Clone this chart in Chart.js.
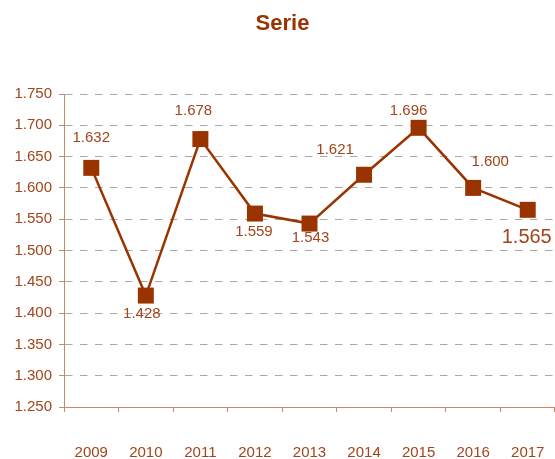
<!DOCTYPE html>
<html>
<head>
<meta charset="utf-8">
<script src="https://cdn.jsdelivr.net/npm/chart.js@4"></script>
<style>
  html, body { margin: 0; padding: 0; background: #ffffff; overflow: hidden; }
  #wrap { width: 555px; height: 459px; position: relative; }
</style>
</head>
<body>
<div id="wrap"><canvas id="c"></canvas></div>
<script>
// ---- Data ----
const categories = ['2009', '2010', '2011', '2012', '2013', '2014', '2015', '2016', '2017'];
const serieValues = [1632, 1428, 1678, 1559, 1543, 1621, 1696, 1600, 1565];
const yTickValues = [1250, 1300, 1350, 1400, 1450, 1500, 1550, 1600, 1650, 1700, 1750];
const chartTitle = 'Serie';

// ---- Label placement (style only) ----
const labelDx = [0, -4, -7, -1, 1, -29, -10, 17, -1];
const labelDy = [-30, 18, -28, 18, 14, -25, -17, -26, 28];
const labelSize = [15, 15, 15, 15, 15, 15, 15, 15, 20];

const TEXT = '#a3441a';
const BROWN = '#993300';
const AXIS = '#c98a6c';
const FONT = '"Liberation Sans", Arial, sans-serif';

function fmt(v) {
  const s = String(Math.round(v));
  return s.replace(/\B(?=(\d{3})+(?!\d))/g, '.');
}

const labelPlugin = {
  id: 'pointLabels',
  afterDatasetsDraw(chart) {
    const ctx = chart.ctx;
    const meta = chart.getDatasetMeta(0);
    ctx.save();
    ctx.fillStyle = TEXT;
    ctx.textAlign = 'center';
    ctx.textBaseline = 'middle';
    meta.data.forEach((pt, i) => {
      ctx.font = labelSize[i] + 'px ' + FONT;
      ctx.fillText(fmt(serieValues[i]), pt.x + labelDx[i], pt.y + labelDy[i]);
    });
    ctx.restore();
  }
};

new Chart(document.getElementById('c'), {
  type: 'line',
  data: {
    labels: categories,
    datasets: [{
      label: chartTitle,
      data: serieValues,
      borderColor: BROWN,
      borderWidth: 2.5,
      backgroundColor: BROWN,
      pointStyle: 'rect',
      pointRadius: 11.3,
      pointHoverRadius: 11.3,
      pointBackgroundColor: BROWN,
      pointBorderColor: BROWN,
      pointBorderWidth: 0,
      tension: 0,
      fill: false,
      clip: false
    }]
  },
  options: {
    responsive: true,
    maintainAspectRatio: false,
    animation: false,
    events: [],
    layout: { autoPadding: false, padding: { left: 10, right: 0, top: 0, bottom: 0 } },
    plugins: {
      legend: { display: false },
      tooltip: { enabled: false },
      title: {
        display: true,
        text: chartTitle,
        color: BROWN,
        font: { family: FONT, size: 22, weight: 'bold', lineHeight: 1.2 },
        padding: { top: 11, bottom: 56.6 }
      }
    },
    scales: {
      x: {
        offset: true,
        grid: {
          offset: true,
          drawOnChartArea: false,
          drawTicks: true,
          tickLength: 5,
          tickColor: AXIS,
          tickWidth: 1
        },
        border: { display: true, color: AXIS, width: 1 },
        ticks: {
          color: TEXT,
          font: { family: FONT, size: 15 },
          padding: 32,
          maxRotation: 0,
          autoSkip: false
        },
        afterFit(scale) {
          scale.height = 52;
          scale.paddingLeft = 0;
          scale.paddingRight = 0;
        }
      },
      y: {
        min: 1250,
        max: 1750,
        afterBuildTicks(scale) { scale.ticks = yTickValues.map(v => ({ value: v })); },
        grid: {
          color: (c) => c.index === 0 ? 'rgba(0,0,0,0)' : '#a8a8a8',
          lineWidth: 1,
          drawTicks: true,
          tickLength: 5,
          tickColor: AXIS,
          tickBorderDash: []
        },
        border: { display: true, color: AXIS, width: 1, dash: [7.5, 7.5] },
        ticks: {
          color: TEXT,
          font: { family: FONT, size: 15 },
          padding: 7,
          callback: (v) => fmt(v)
        },
        afterFit(scale) { scale.width = 54; }
      }
    }
  },
  plugins: [labelPlugin]
});
</script>
</body>
</html>
